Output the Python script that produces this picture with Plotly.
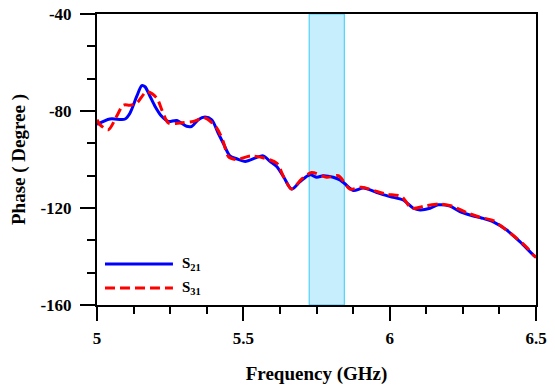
import plotly.graph_objects as go

freq_s21 = [5.00, 5.044, 5.096, 5.113, 5.136, 5.153, 5.164, 5.181, 5.198, 5.221, 5.244, 5.272, 5.306, 5.324,
            5.346, 5.369, 5.392, 5.414, 5.431, 5.454, 5.477, 5.506, 5.568, 5.591, 5.614, 5.637, 5.665, 5.694,
            5.728, 5.751, 5.773, 5.807, 5.830, 5.847, 5.876, 5.910, 5.956, 6.001, 6.046, 6.081, 6.104, 6.138,
            6.166, 6.206, 6.240, 6.274, 6.320, 6.354, 6.400, 6.445, 6.491, 6.5]
phase_s21 = [-85.5, -83.3, -83.3, -80.8, -73.9, -69.5, -70, -73.9, -78, -82.2, -84.3, -83.9, -86.3, -86.3,
             -83.6, -82.5, -83.6, -89.1, -93.2, -98.5, -99.7, -100.8, -98.5, -100.8, -102.9, -107, -112.2, -109.1,
             -106.3, -107.3, -106.7, -107.3, -108.4, -110, -112.8, -111.8, -113.6, -115.3, -116.7, -120.1, -120.8, -120.1,
             -118.7, -119.2, -121.5, -122.9, -124.3, -125.7, -129.1, -133.9, -139.4, -140.3]

freq_s31 = [5.0, 5.01, 5.039, 5.067, 5.09, 5.113, 5.136, 5.17, 5.204, 5.221, 5.244, 5.284, 5.329, 5.369,
            5.409, 5.431, 5.449, 5.477, 5.528, 5.614, 5.637, 5.665, 5.699, 5.733, 5.785, 5.825, 5.864, 5.904,
            5.956, 5.99, 6.041, 6.075, 6.121, 6.166, 6.212, 6.263, 6.308, 6.354, 6.390, 6.434, 6.468, 6.491, 6.5]
phase_s31 = [-83.6, -85.6, -87.7, -82.2, -77.6, -77.6, -76.7, -72.0, -74.6, -79.4, -84.9, -84.9, -84.3, -82.9,
             -87, -92.5, -98.8, -100, -98.5, -101.5, -107, -112.2, -108.1, -105.4, -107.3, -106.7, -112.2, -111.4,
             -113.2, -114.3, -115.3, -120.1, -119.2, -118.3, -119.2, -121.9, -123.8, -125.2, -128.3, -132.5, -136.2, -139.4, -140.3]

band = [5.725, 5.845]
series_names = ["S<sub>21</sub>", "S<sub>31</sub>"]
series_colors = ["#0000FF", "#FF0000"]
series_dash = ["solid", "10px,5px"]
x_ticks = [5, 5.5, 6, 6.5]
x_ticklabels = ["5", "5.5", "6", "6.5"]
y_ticks = [-160, -120, -80, -40]

FONT = "Liberation Serif"
PLOT_TOP, PLOT_H = 14, 291

fig = go.Figure()

fig.add_shape(type="rect", xref="x", yref="paper", x0=band[0], x1=band[1], y0=0, y1=1,
              fillcolor="#C7EEFC", line=dict(color="#33CCFF", width=1), layer="below")

fig.add_trace(go.Scatter(x=freq_s21, y=phase_s21, mode="lines", name=series_names[0],
                         line=dict(color=series_colors[0], width=3, shape="spline", smoothing=0.8)))
fig.add_trace(go.Scatter(x=freq_s31, y=phase_s31, mode="lines", name=series_names[1],
                         line=dict(color=series_colors[1], width=3, dash=series_dash[1], shape="spline", smoothing=0.8)))

# legend drawn manually (long sample lines as in reference)
legend_rows_px = [264, 288]
for name, col, dash, row in zip(series_names, series_colors, series_dash, legend_rows_px):
    yy = 1 - (row - PLOT_TOP) / PLOT_H
    fig.add_shape(type="line", xref="paper", yref="paper", x0=0.0182, x1=0.173, y0=yy, y1=yy,
                  line=dict(color=col, width=3, dash=dash))
    fig.add_annotation(xref="paper", yref="paper", x=0.188, y=yy, text="<b>" + name + "</b>", showarrow=False,
                       xanchor="left", yanchor="middle", font=dict(family=FONT, size=15, color="black"))

axis_common = dict(showline=True, linecolor="black", linewidth=2, mirror=True, ticks="outside",
                   tickcolor="black", tickwidth=2, showgrid=False, zeroline=False, automargin=False,
                   tickfont=dict(family=FONT, size=17, color="black"))

fig.update_xaxes(range=[5, 6.5], tickvals=x_ticks, ticktext=["<b>%s</b>" % t for t in x_ticklabels], ticklen=14,
                 ticklabelstandoff=3,
                 minor=dict(dtick=0.125, tick0=5, ticks="outside", ticklen=7, tickcolor="black", tickwidth=2),
                 title=dict(text="<b>Frequency (GHz)</b>", font=dict(family=FONT, size=19, color="black"), standoff=20),
                 **axis_common)
fig.update_yaxes(range=[-160, -40], tickvals=y_ticks, ticktext=["<b>%d</b>" % v for v in y_ticks], ticklen=15,
                 ticklabelstandoff=5,
                 minor=dict(dtick=40 / 3, tick0=-160, ticks="outside", ticklen=8, tickcolor="black", tickwidth=2),
                 title=dict(text="<b>Phase ( Degree )</b>", font=dict(family=FONT, size=19, color="black"), standoff=10),
                 **axis_common)

fig.update_layout(width=555, height=385, margin=dict(l=97, r=19, t=PLOT_TOP, b=80),
                  plot_bgcolor="white", paper_bgcolor="white", showlegend=False)

fig.write_html("out.html")
